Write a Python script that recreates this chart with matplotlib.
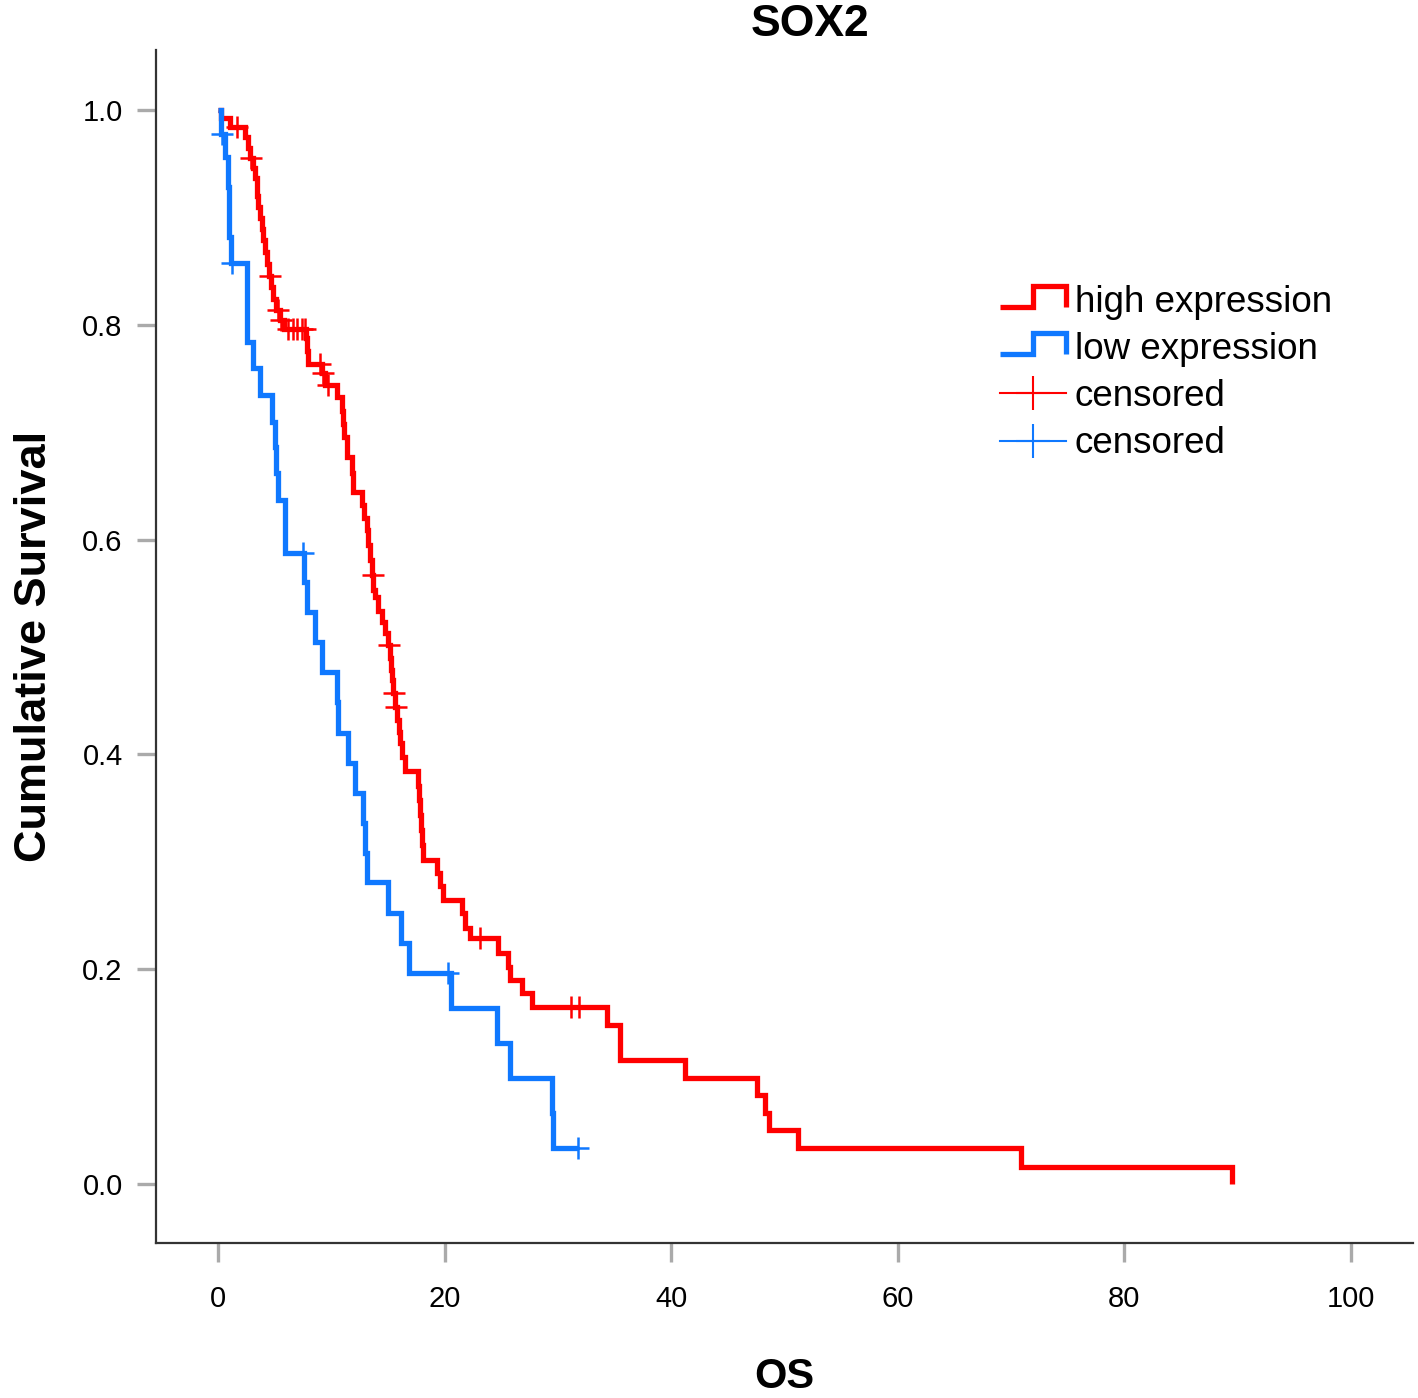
import numpy as np
import matplotlib
matplotlib.use("Agg")
import matplotlib.pyplot as plt
from matplotlib.lines import Line2D
from matplotlib.legend_handler import HandlerBase

plt.rcParams['font.family'] = ['Liberation Sans', 'DejaVu Sans']

# Kaplan-Meier steps (time, survival after the event)
high_time = [0.26, 1.06, 2.38, 2.65, 2.82, 3.09, 3.27, 3.44, 3.53, 3.71,
             3.88, 3.97, 4.15, 4.32, 4.50, 4.68, 4.85, 5.12, 5.47, 5.83,
             7.77, 7.86, 7.94, 9.18, 9.44, 10.50, 10.94, 11.03, 11.12, 11.39,
             11.83, 11.92, 12.71, 12.89, 13.15, 13.28, 13.42, 13.59, 13.72, 13.86,
             14.12, 14.47, 14.74, 15.00, 15.18, 15.25, 15.36, 15.45, 15.60, 15.85,
             15.95, 16.06, 16.24, 16.50, 17.65, 17.74, 17.83, 17.92, 18.01, 18.09,
             19.33, 19.59, 19.86, 21.54, 21.80, 22.24, 24.71, 25.60, 25.77, 26.83,
             27.71, 34.33, 35.48, 41.22, 47.57, 48.28, 48.63, 51.19, 70.87, 89.50]
high_surv = [0.993, 0.984, 0.975, 0.965, 0.955, 0.946, 0.937, 0.920, 0.910, 0.900,
             0.889, 0.879, 0.868, 0.857, 0.846, 0.835, 0.824, 0.814, 0.805, 0.796,
             0.788, 0.776, 0.764, 0.755, 0.744, 0.733, 0.720, 0.708, 0.696, 0.677,
             0.662, 0.644, 0.632, 0.620, 0.609, 0.595, 0.581, 0.567, 0.553, 0.547,
             0.534, 0.523, 0.513, 0.502, 0.490, 0.479, 0.469, 0.457, 0.444, 0.432,
             0.421, 0.411, 0.398, 0.385, 0.371, 0.358, 0.344, 0.330, 0.316, 0.302,
             0.290, 0.277, 0.264, 0.252, 0.238, 0.229, 0.215, 0.202, 0.190, 0.178,
             0.165, 0.148, 0.115, 0.099, 0.083, 0.066, 0.050, 0.033, 0.016, 0.000]
high_censored = [1.7, 2.9, 4.6, 5.3, 5.6, 6.2, 6.6, 7.0, 7.4, 7.7, 9.0, 9.3, 9.7,
                 13.65, 15.1, 15.5, 15.7, 23.1, 31.2, 31.9]

low_time = [0.30, 0.60, 0.90, 1.00, 1.15, 2.60, 3.10, 3.70, 4.80, 5.00,
            5.10, 5.30, 5.90, 7.60, 7.90, 8.60, 9.20, 10.50, 10.60, 11.50,
            12.10, 12.80, 13.00, 13.20, 15.00, 16.20, 16.90, 20.60, 24.60, 25.80,
            29.50, 29.60]
low_surv = [0.978, 0.956, 0.928, 0.882, 0.858, 0.784, 0.760, 0.735, 0.710, 0.686,
            0.662, 0.637, 0.588, 0.561, 0.533, 0.505, 0.477, 0.449, 0.420, 0.392,
            0.364, 0.336, 0.308, 0.281, 0.252, 0.224, 0.196, 0.164, 0.131, 0.099,
            0.066, 0.033]
low_censored = [0.35, 1.2, 7.5, 20.3, 31.8]
low_last = 31.8

red = '#ff0000'
blue = '#0f78ff'


def km_curve(times, surv, end=None):
    x = [0.0] + list(times)
    y = [1.0] + list(surv)
    if end is not None:
        x.append(end)
        y.append(y[-1])
    return np.array(x), np.array(y)


def level_at(x, y, t):
    idx = np.searchsorted(x, t, side='right') - 1
    return y[idx]


class StepHandler(HandlerBase):
    def create_artists(self, legend, orig_handle, xdescent, ydescent,
                       width, height, fontsize, trans):
        xs = np.array([0, 0.5, 0.5, 1, 1]) * width - xdescent
        ys = np.array([0.2, 0.2, 1.0, 1.0, 0.2]) * height - ydescent
        line = Line2D(xs, ys, color=orig_handle.get_color(),
                      lw=orig_handle.get_linewidth(), solid_joinstyle='miter',
                      solid_capstyle='butt')
        line.set_transform(trans)
        return [line]


fig = plt.figure(figsize=(14.18, 13.98), dpi=100)
ax = fig.add_axes([0.110, 0.1109, 0.8865, 0.8533])

hx, hy = km_curve(high_time, high_surv)
lx, ly = km_curve(low_time, low_surv, end=low_last)

h_line, = ax.step(hx, hy, where='post', color=red, lw=3.8,
                  solid_joinstyle='miter', solid_capstyle='butt')
l_line, = ax.step(lx, ly, where='post', color=blue, lw=3.8,
                  solid_joinstyle='miter', solid_capstyle='butt')

hc = np.array(high_censored)
lc = np.array(low_censored)
ax.plot(hc, level_at(hx, hy, hc), ls='none', marker='+', ms=16, mew=1.8, color=red)
ax.plot(lc, level_at(lx, ly, lc), ls='none', marker='+', ms=16, mew=1.8, color=blue)

ax.set_xlim(-5.47, 105.5)
ax.set_ylim(-0.055, 1.056)
ax.set_xticks([0, 20, 40, 60, 80, 100])
ax.set_yticks([0.0, 0.2, 0.4, 0.6, 0.8, 1.0])
ax.set_yticklabels(['0.0', '0.2', '0.4', '0.6', '0.8', '1.0'])

for side in ['top', 'right']:
    ax.spines[side].set_visible(False)
for side in ['left', 'bottom']:
    ax.spines[side].set_linewidth(1.6)
    ax.spines[side].set_color('#333333')

ax.tick_params(axis='both', direction='out', length=14, width=2.4,
               color='#aaaaaa', labelsize=21, labelcolor='black')
ax.tick_params(axis='x', pad=16)
ax.tick_params(axis='y', pad=10)

ax.set_title('SOX2', fontsize=32, fontweight='bold', pad=10, x=0.5205)
ax.set_xlabel('OS', fontsize=30, fontweight='bold')
ax.set_ylabel('Cumulative Survival', fontsize=32.5, fontweight='bold')
ax.xaxis.set_label_coords(0.5, -0.096)
ax.yaxis.set_label_coords(-0.080, 0.5)

cens_h = Line2D([], [], color=red, lw=1.5, marker='+', ms=25, mew=1.5)
cens_l = Line2D([], [], color=blue, lw=1.5, marker='+', ms=25, mew=1.5)
ax.legend([h_line, l_line, cens_h, cens_l],
          ['high expression', 'low expression', 'censored', 'censored'],
          handler_map={h_line: StepHandler(), l_line: StepHandler()},
          loc='upper left', bbox_to_anchor=(1000 / 1418, 1 - 285 / 1398),
          bbox_transform=fig.transFigure, frameon=False, fontsize=26.5,
          handlelength=1.78, handletextpad=0.25, labelspacing=0.33,
          borderpad=0, borderaxespad=0, numpoints=1)

fig.savefig('out.png', dpi=100)
